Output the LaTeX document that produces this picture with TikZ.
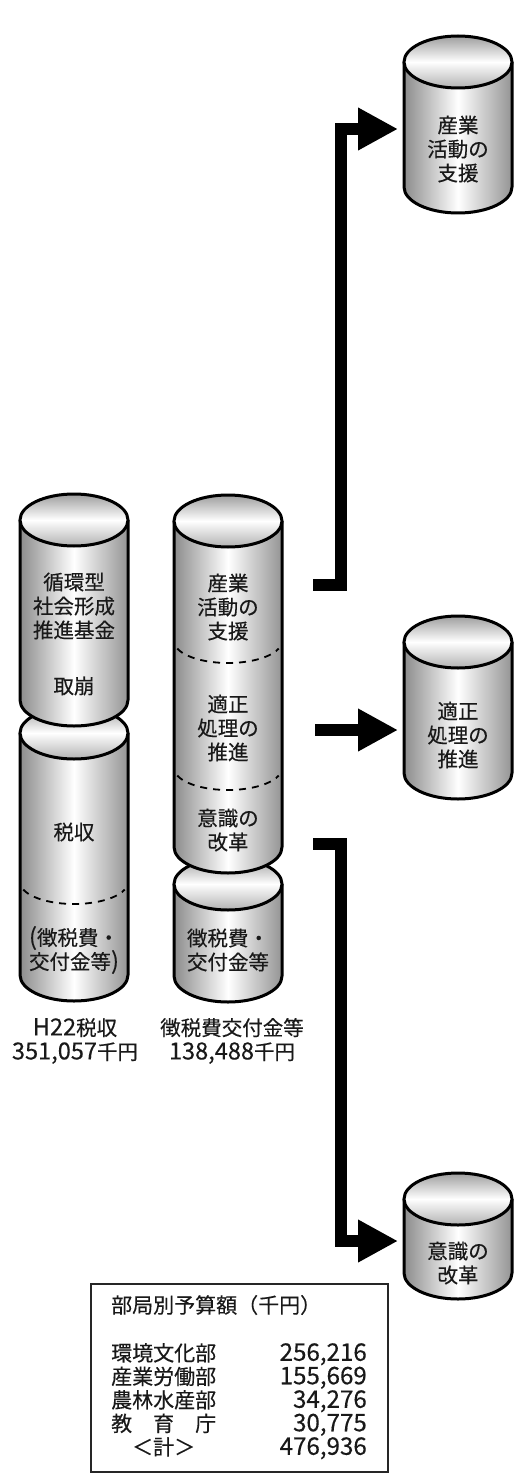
\documentclass[tikz,border=0pt]{standalone}
\usepackage{fontspec}
\setmainfont[FakeBold=0.3]{Noto Sans CJK JP}
\newfontfamily\lat[Scale=1.15,FakeBold=0.3]{Noto Sans CJK JP}
\usetikzlibrary{arrows.meta}
\newcommand{\cylbody}[3]{%
  \path[left color=black!45,right color=black!42,middle color=white]
    (#1-54,-#2) -- (#1-54,-#3) arc[start angle=180,end angle=360,x radius=54,y radius=26] -- (#1+54,-#2) -- cycle;
  \draw[cylline] (#1-54,-#2) -- (#1-54,-#3) arc[start angle=180,end angle=360,x radius=54,y radius=26] -- (#1+54,-#2);
  \draw[cylline,top color=black!38,bottom color=black!30,middle color=white] (#1,-#2) ellipse[x radius=54,y radius=26];
}
\newcommand{\cyldash}[2]{%
  \draw[sepline] (#1,-#2) ++(200:54 and 22) arc[start angle=200,end angle=340,x radius=54,y radius=22];
}
\begin{document}
\begin{tikzpicture}[x=1pt,y=1pt,
  cylline/.style={line width=3pt,black},
  sepline/.style={line width=1.8pt,dash pattern=on 7pt off 6pt},
  txt/.style={font=\fontsize{20.5}{24}\selectfont,align=center,inner sep=0pt,text=black!90},
  tabtxt/.style={font=\fontsize{21}{23.5}\selectfont,inner sep=0pt,text=black!90},
  bigarrow/.style={line width=12pt,line join=miter,-{Triangle[length=40pt,width=40pt]}}]
\useasboundingbox (0,0) rectangle (515,-1479);
\fill[white] (0,0) rectangle (515,-1479);

% left column: lower then upper
\cylbody{74}{733}{975}
\cyldash{74}{882}
\cylbody{74}{520}{700}
% middle column: lower then upper
\cylbody{228}{884}{976}
\cylbody{228}{521}{847}
\cyldash{228}{641}
\cyldash{228}{768}
% right column
\cylbody{458}{62}{187}
\cylbody{458}{642}{773}
\cylbody{458}{1199}{1273}

% texts in cylinders
\node[txt] (fund) at (74,-606) {循環型\\社会形成\\推進基金};
\node[txt] (torikuzushi) at (74,-686) {取崩};
\node[txt] (zeishu) at (74,-832) {税収};
\node[txt] (choL) at (74,-950) {{\lat(}徴税費・\\交付金等{\lat)}};
\node[txt] (sangyo) at (228,-607) {産業\\活動の\\支援};
\node[txt] (tekisei) at (228,-728) {適正\\処理の\\推進};
\node[txt] (ishiki) at (228,-830) {意識の\\改革};
\node[txt] (choM) at (228,-950) {徴税費・\\交付金等};
\node[txt] (rSangyo) at (458,-149) {産業\\活動の\\支援};
\node[txt] (rTekisei) at (458,-735) {適正\\処理の\\推進};
\node[txt] (rIshiki) at (458,-1263) {意識の\\改革};

% labels under columns
\node[txt] (labL) at (75,-1041) {{\lat H22}税収\\{\lat 351,057}千円};
\node[txt] (labM) at (232,-1041) {徴税費交付金等\\{\lat 138,488}千円};

% arrows
\coordinate (a1s) at (313,-585);
\coordinate (a1e) at (398,-129);
\coordinate (a2s) at (315,-730);
\coordinate (a2e) at (398,-730);
\coordinate (a3s) at (313,-844);
\coordinate (a3e) at (398,-1241);
\draw[bigarrow] (a1s) -- ++(28,0) |- (a1e);
\draw[bigarrow] (a2s) -- (a2e);
\draw[bigarrow] (a3s) -- ++(28,0) |- (a3e);

% budget table
\draw[line width=1.4pt,black!85] (91,-1284) rectangle (388,-1472);
\node[tabtxt,anchor=west] (tabhead) at (111,-1305) {部局別予算額（千円）};
\node[tabtxt,anchor=north west,align=left] (tabnames) at (111,-1343) {環境文化部\\産業労働部\\農林水産部\\教　育　庁\\　＜計＞};
\node[tabtxt,anchor=north east,align=right] (tabnums) at (367,-1343) {\lat 256,216\\\lat 155,669\\\lat 34,276\\\lat 30,775\\\lat 476,936};
\end{tikzpicture}
\end{document}
